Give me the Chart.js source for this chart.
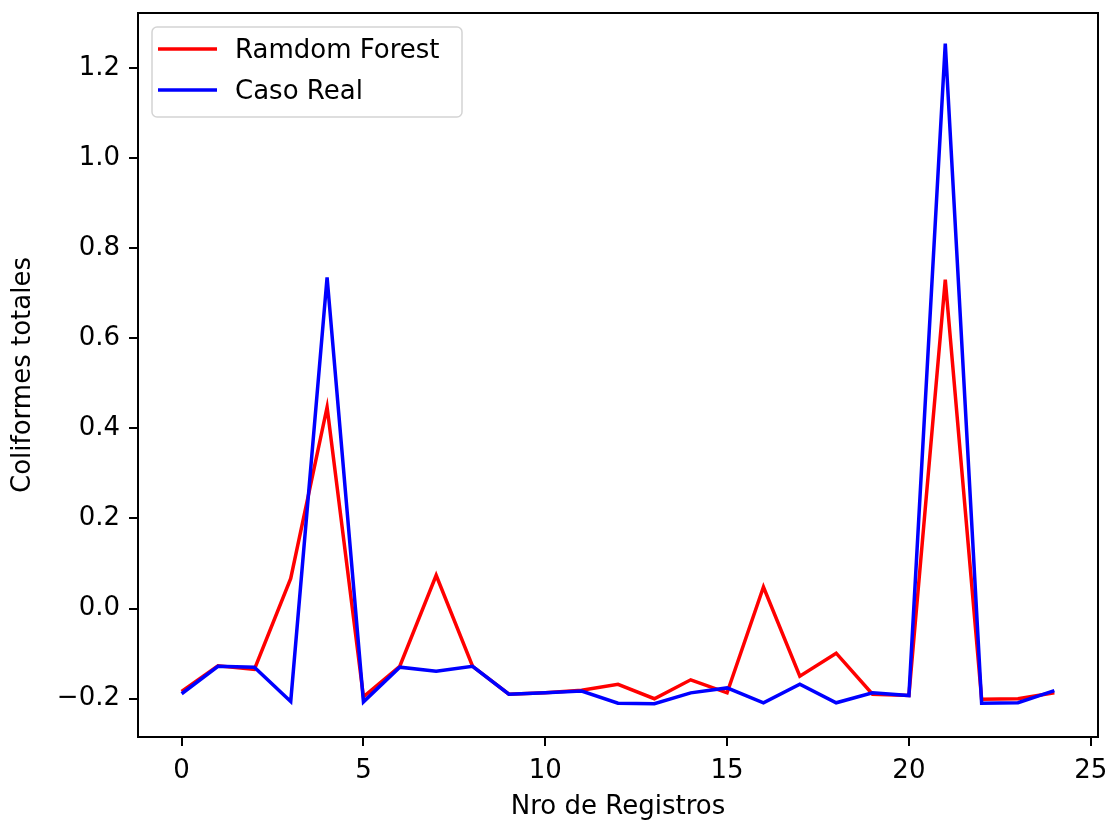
<!DOCTYPE html>
<html>
<head>
<meta charset="utf-8">
<script src="https://cdn.jsdelivr.net/npm/chart.js@4"></script>
<style>
  html, body { margin: 0; padding: 0; background: #fff; }
  #wrap { width: 1118px; height: 823px; }
</style>
</head>
<body>
<div id="wrap"><canvas id="chart" width="1118" height="823"></canvas></div>
<script>
'use strict';

const REGISTROS = [0, 1, 2, 3, 4, 5, 6, 7, 8, 9, 10, 11, 12, 13, 14, 15, 16, 17, 18, 19, 20, 21, 22, 23, 24];

const RANDOM_FOREST = [
  -0.184, -0.127, -0.135, 0.067, 0.447, -0.196, -0.128, 0.074, -0.128, -0.190,
  -0.187, -0.181, -0.168, -0.200, -0.158, -0.187, 0.048, -0.150, -0.099, -0.190,
  -0.193, 0.730, -0.201, -0.200, -0.187,
];

const CASO_REAL = [
  -0.189, -0.128, -0.130, -0.206, 0.735, -0.207, -0.130, -0.139, -0.128, -0.190,
  -0.187, -0.183, -0.210, -0.211, -0.187, -0.176, -0.209, -0.168, -0.209, -0.187,
  -0.193, 1.254, -0.210, -0.209, -0.182,
];

const X_TICKS = [0, 5, 10, 15, 20, 25];
const Y_TICKS = [-0.2, 0.0, 0.2, 0.4, 0.6, 0.8, 1.0, 1.2];

const FONT = "'DejaVu Sans', sans-serif";
const FONT_SIZE = 26;

// Frame around the plot area (matplotlib style box)
const framePlugin = {
  id: 'frame',
  afterDatasetsDraw(chart) {
    const { ctx, chartArea: a } = chart;
    ctx.save();
    ctx.strokeStyle = '#000';
    ctx.lineWidth = 2;
    ctx.strokeRect(a.left, a.top, a.right - a.left, a.bottom - a.top);
    ctx.restore();
  },
};

// Legend box in upper left, drawn inside the plot area
const legendPlugin = {
  id: 'boxLegend',
  afterDraw(chart) {
    const { ctx, chartArea: a } = chart;
    const x = a.left + 14, y = a.top + 14, w = 310, h = 90;
    ctx.save();
    ctx.fillStyle = 'rgba(255,255,255,0.8)';
    ctx.strokeStyle = '#d4d4d4';
    ctx.lineWidth = 1.5;
    ctx.beginPath();
    ctx.roundRect(x, y, w, h, 5);
    ctx.fill();
    ctx.stroke();
    ctx.font = `${FONT_SIZE}px ${FONT}`;
    ctx.textBaseline = 'middle';
    chart.data.datasets.forEach((ds, i) => {
      const ly = y + 22 + i * 41;
      ctx.strokeStyle = ds.borderColor;
      ctx.lineWidth = 3.5;
      ctx.beginPath();
      ctx.moveTo(x + 6, ly);
      ctx.lineTo(x + 65, ly);
      ctx.stroke();
      ctx.fillStyle = '#000';
      ctx.fillText(ds.label, x + 83, ly + 2);
    });
    ctx.restore();
  },
};

const ctx = document.getElementById('chart').getContext('2d');
new Chart(ctx, {
  type: 'line',
  data: {
    datasets: [
      {
        label: 'Ramdom Forest',
        data: REGISTROS.map((x, i) => ({ x, y: RANDOM_FOREST[i] })),
        borderColor: '#ff0000',
        borderWidth: 3.5,
        pointRadius: 0,
        tension: 0,
        order: 1,
      },
      {
        label: 'Caso Real',
        data: REGISTROS.map((x, i) => ({ x, y: CASO_REAL[i] })),
        borderColor: '#0000ff',
        borderWidth: 3.5,
        pointRadius: 0,
        tension: 0,
        order: 0,
      },
    ],
  },
  options: {
    responsive: false,
    animation: false,
    layout: { padding: { top: 13, right: 20, left: 0, bottom: 0 } },
    plugins: {
      legend: { display: false },
      tooltip: { enabled: false },
    },
    scales: {
      x: {
        type: 'linear',
        min: -1.2,
        max: 25.2,
        afterBuildTicks: (s) => { s.ticks = X_TICKS.map((v) => ({ value: v })); },
        afterFit: (s) => { s.height = 86; s.paddingLeft = 0; s.paddingRight = 0; },
        ticks: {
          color: '#000',
          font: { family: FONT, size: FONT_SIZE },
          padding: 10,
          maxRotation: 0,
          callback: (v) => String(v),
        },
        grid: { drawOnChartArea: false, tickLength: 9, color: '#000', lineWidth: 2 },
        border: { display: false },
        title: {
          display: true,
          text: 'Nro de Registros',
          color: '#000',
          font: { family: FONT, size: FONT_SIZE },
          padding: { top: 0, bottom: 0 },
        },
      },
      y: {
        type: 'linear',
        min: -0.285,
        max: 1.322,
        afterBuildTicks: (s) => { s.ticks = Y_TICKS.map((v) => ({ value: v })); },
        afterFit: (s) => { s.width = 138; s.paddingTop = 0; s.paddingBottom = 0; },
        ticks: {
          color: '#000',
          font: { family: FONT, size: FONT_SIZE },
          padding: 9,
          callback: (v) => v.toFixed(1).replace('-', '\u2212'),
        },
        grid: { drawOnChartArea: false, tickLength: 9, color: '#000', lineWidth: 2 },
        border: { display: false },
        title: {
          display: true,
          text: 'Coliformes totales',
          color: '#000',
          font: { family: FONT, size: FONT_SIZE },
          padding: { top: 8, bottom: 0 },
        },
      },
    },
  },
  plugins: [framePlugin, legendPlugin],
});
</script>
</body>
</html>
